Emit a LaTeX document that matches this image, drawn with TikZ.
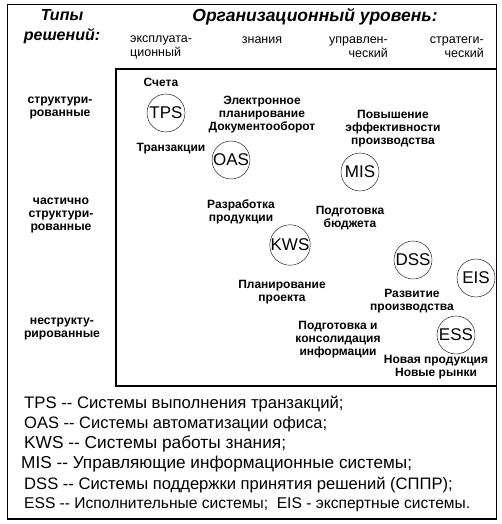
\documentclass[tikz,border=0pt]{standalone}
\usepackage{fontspec}
\setmainfont{Liberation Sans}[Ligatures=TeXOff]
\usetikzlibrary{positioning}
\tikzset{
    sys-circle/.style = {draw, circle, thin, minimum size=38pt, inner sep=0pt, font=\fontsize{17}{18}\selectfont},
    task-label/.style = {align=center, inner sep=0pt, font=\fontsize{12}{13}\selectfont\bfseries},
    row-label/.style = {align=center, inner sep=0pt, font=\fontsize{12.2}{13}\selectfont\bfseries},
    col-label/.style = {inner sep=0pt, font=\fontsize{12.5}{14}\selectfont},
    head-label/.style = {inner sep=0pt, font=\fontsize{16}{20}\selectfont\bfseries\itshape},
    legend-line/.style = {anchor=west, inner sep=0pt, font=\fontsize{#1}{18}\selectfont},
    legend-line/.default = 16.5,
}

\begin{document}
\begin{tikzpicture}[x=1pt, y=-1pt]
\useasboundingbox (0,0) rectangle (501,524);
\draw[line width=1.2pt] (7.5,4.5) rectangle (496.5,519);
\draw[line width=1.2pt] (116,69) rectangle (496.5,386);

\node[head-label, align=center] (types) at (62,27) {Типы\\решений:};
\node[head-label, font=\fontsize{17.5}{20}\selectfont\bfseries\itshape] (orglevel) at (315,17) {Организационный уровень:};
\node[col-label, align=left, anchor=west] (operational) at (130,47) {эксплуата-\\ционный};
\node[col-label] (knowledge) at (262,40) {знания};
\node[col-label, align=right, anchor=east] (management) at (388,47) {управлен-\\ческий};
\node[col-label, align=right, anchor=east] (strategic) at (484,47) {стратеги-\\ческий};

\node[row-label] (structured) at (60,108) {структури-\\рованные};
\node[row-label] (semistructured) at (61,215) {частично\\структури-\\рованные};
\node[row-label] (unstructured) at (62,329) {неструкту-\\рированные};

\node[sys-circle] (tps) at (166,113) {TPS};
\node[sys-circle] (oas) at (231,160) {OAS};
\node[sys-circle] (mis) at (360,172) {MIS};
\node[sys-circle] (kws) at (290,245) {KWS};
\node[sys-circle] (dss) at (413,260) {DSS};
\node[sys-circle] (eis) at (476,278) {EIS};
\node[sys-circle] (ess) at (456,335) {ESS};

\node[task-label] (bills) at (161,82) {Счета};
\node[task-label] (transactions) at (171,149) {Транзакции};
\node[task-label] (eplanning) at (262,115) {Электронное\\планирование\\Документооборот};
\node[task-label] (efficiency) at (393,129) {Повышение\\эффективности\\производства};
\node[task-label] (development) at (241,212) {Разработка\\продукции};
\node[task-label] (budget) at (350,218) {Подготовка\\бюджета};
\node[task-label] (project) at (282,292) {Планирование\\проекта};
\node[task-label] (growth) at (412,301) {Развитие\\производства};
\node[task-label] (consolidation) at (338,340) {Подготовка и\\консолидация\\информации};
\node[task-label] (markets) at (436,367) {Новая продукция\\Новые рынки};

\node[legend-line=16.7] (tps-text) at (24,404) {TPS -- Системы выполнения транзакций;};
\node[legend-line] (oas-text) at (24,424) {OAS -- Системы автоматизации офиса;};
\node[legend-line=17.3] (kws-text) at (24,444) {KWS -- Системы работы знания;};
\node[legend-line=17.2] (mis-text) at (21,464) {MIS -- Управляющие информационные системы;};
\node[legend-line=16.6] (dss-text) at (24,485) {DSS -- Системы поддержки принятия решений (СППР);};
\node[legend-line=15.6] (ess-text) at (24,505) {ESS -- Исполнительные системы;\ \ EIS - экспертные системы.};
\end{tikzpicture}
\end{document}
